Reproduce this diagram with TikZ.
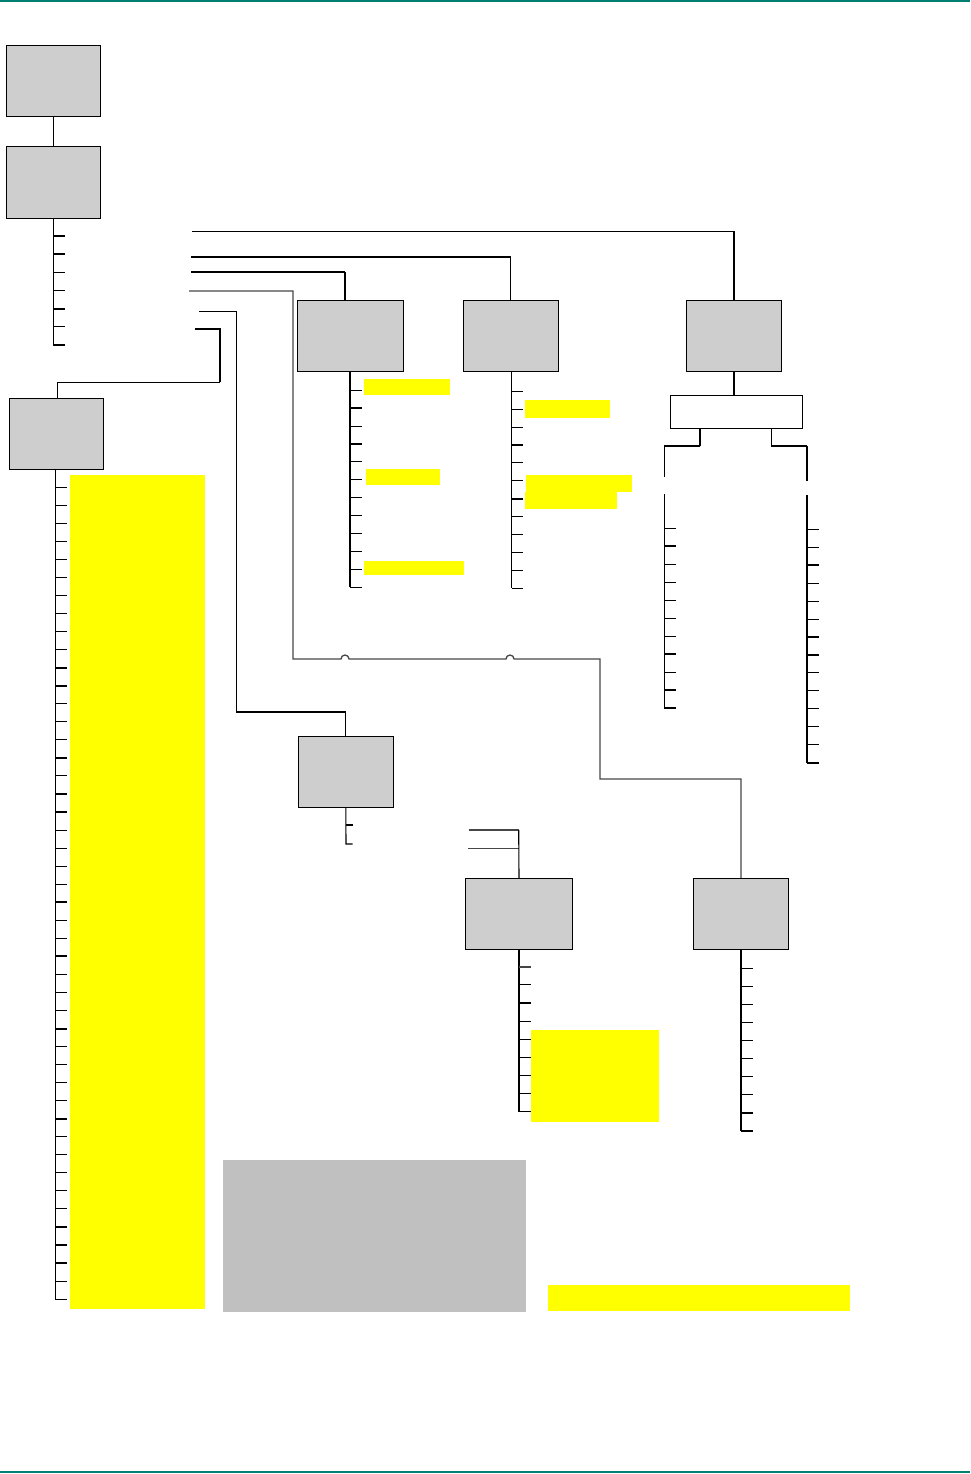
\documentclass[tikz,border=0pt]{standalone}
\usepackage{tikz}
\usepackage{xcolor}
\usetikzlibrary{positioning,calc}
\definecolor{rulegreen}{RGB}{0,128,114}
\definecolor{boxgray}{RGB}{206,206,206}
\definecolor{notegray}{RGB}{192,192,192}
\definecolor{hiyellow}{RGB}{255,255,0}
\definecolor{linegray}{RGB}{70,70,70}

\begin{document}
\begin{tikzpicture}[x=1pt, y=-1pt,
    menu/.style={draw, line width=1pt, fill=boxgray, inner sep=0pt, minimum height=71pt},
    hilite/.style={fill=hiyellow, inner sep=0pt},
    link/.style={line width=1.1pt},
    heavy/.style={line width=2pt},
    faint/.style={line width=1.3pt, draw=linegray}
]
    \useasboundingbox (0,0) rectangle (970,1474);
    \draw[line width=2pt, rulegreen] (0,1) -- (970,1);
    \draw[line width=2pt, rulegreen] (0,1472) -- (970,1472);

    % menu boxes
    \node[menu, minimum width=94pt] (root) at (53.5,81.5) {};
    \node[menu, minimum width=94pt] (main) at (53.5,182.5) {};
    \node[menu, minimum width=94pt] (menuA) at (56.5,434) {};
    \node[menu, minimum width=106pt] (menuB) at (350,335.5) {};
    \node[menu, minimum width=95pt] (menuC) at (510.8,335.5) {};
    \node[menu, minimum width=95pt] (menuD) at (734,335.7) {};
    \node[draw, line width=1pt, fill=white, minimum width=132pt, minimum height=33pt] (split) at (736.3,411.8) {};
    \node[menu, minimum width=95pt] (menuE) at (345.8,771.8) {};
    \node[menu, minimum width=107pt] (menuF) at (519,913.8) {};
    \node[menu, minimum width=95pt] (menuG) at (741,913.8) {};

    % highlights
    \node[hilite, minimum width=135pt, minimum height=834pt] (hlA) at (137.4,892.2) {};
    \node[hilite, minimum width=86pt, minimum height=16pt] (hlB1) at (407,387) {};
    \node[hilite, minimum width=74pt, minimum height=16pt] (hlB2) at (403,477) {};
    \node[hilite, minimum width=100pt, minimum height=14pt] (hlB3) at (414,568) {};
    \node[hilite, minimum width=85pt, minimum height=17.7pt] (hlC1) at (567.5,408.9) {};
    \node[hilite, minimum width=106pt, minimum height=16.7pt] (hlC2) at (579,483.4) {};
    \node[hilite, minimum width=92pt, minimum height=17.3pt] (hlC3) at (571.2,500.4) {};
    \node[hilite, minimum width=128pt, minimum height=92pt] (hlF) at (595,1075.9) {};
    \node[hilite, minimum width=302pt, minimum height=26pt] (hlfoot) at (699,1298) {};
    \node[fill=notegray, inner sep=0pt, minimum width=303pt, minimum height=152pt] (note) at (374.3,1236) {};

    % top chain
    \draw[link] (root.south) -- (main.north);
    \draw[link] (main.south) -- (53.5,345) -- (65,345);
    \foreach \i in {0,...,5} \draw[link] (53.5,236+18.17*\i) -- (65,236+18.17*\i);
    \foreach \i in {1,4} \draw[heavy] (53.5,236+18.17*\i) -- (65,236+18.17*\i);

    % feeds out of the main list
    \coordinate (fD) at (192,231.3);
    \coordinate (fC) at (191,256.7);
    \coordinate (fB) at (191,272);
    \coordinate (fG) at (189,291);
    \coordinate (fE) at (199,311.7);
    \coordinate (fA) at (195,328.7);
    \draw[link] (fD) -- (fD -| menuD.north);
    \draw[line width=1.6pt] (fD -| menuD.north) -- (menuD.north);
    \draw[heavy] (fC) -- (fC -| menuC.north);
    \draw[link] (fC -| menuC.north) -- (menuC.north);
    \draw[link] (fB) -- (fB -| 345,0);
    \draw[heavy] (345,272) -- ([xshift=-5pt]menuB.north);
    \draw[faint] (fG) -- (293,291) -- (293,659) -- (341,659) arc (180:360:4)
        -- (506,659) arc (180:360:4) -- (600,659) -- (600,779) -| (menuG.north);
    \draw[link] (fE) -- (236.7,311.7) -- (236.7,712) -| ([xshift=-0.1pt]menuE.north);
    \draw[heavy] (fA) -- (220,328.7) -- (220,382.3);
    \draw[link] (220,382.3) -| ([xshift=1.2pt]menuA.north);

    % left list
    \draw[link] (55.3,469.3) -- (55.3,1299.3) -- (67,1299.3);
    \foreach \i in {0,...,44} \draw[link] (55.3,487.3+18.04*\i) -- (67,487.3+18.04*\i);
    \foreach \i in {10,11,15,23,26,30,35} \draw[heavy] (55.3,487.3+18.04*\i) -- (67,487.3+18.04*\i);

    % menuB list
    \draw[heavy] (menuB.south) -- (350,587.3);
    \foreach \i in {0,...,11} \draw[link] (350,390.3+17.9*\i) -- (362,390.3+17.9*\i);
    \draw[heavy] (350,408.2) -- (362,408.2);

    % menuC list
    \draw[link] (511.7,371) -- (511.7,588.3);
    \foreach \i in {0,...,11} \draw[link] (511.7,391.3+17.91*\i) -- (523,391.3+17.91*\i);
    \draw[heavy] (511.7,498.8) -- (523,498.8);

    % menuD and its two branches
    \draw[heavy] (menuD.south) -- (menuD.south |- split.north);
    \draw[heavy] ([xshift=-36.3pt]split.south) -- (700,446);
    \draw[link] (700,446) -- (664.3,446) -- (664.3,477.3);
    \draw[link] (664.3,494.3) -- (664.3,708);
    \foreach \i in {0,...,10} \draw[link] (664.3,528.3+17.97*\i) -- (676,528.3+17.97*\i);
    \foreach \i in {1,7} \draw[heavy] (664.3,528.3+17.97*\i) -- (676,528.3+17.97*\i);
    \draw[link] ([xshift=35.4pt]split.south) -- (771.7,446) -- (806.7,446);
    \draw[heavy] (806.7,446) -- (806.7,480.7);
    \draw[heavy] (806.7,495) -- (806.7,762.7);
    \foreach \i in {0,...,12} \draw[link] (806.7,529.3+17.95*\i) -- (818.7,529.3+17.95*\i);
    \foreach \i in {2,13} \draw[heavy] (806.7,529.3+17.95*\i) -- (818.7,529.3+17.95*\i);

    % menuE list
    \draw[link] (menuE.south) -- (346,844) -- (352.7,844);
    \draw[link] (346,825) -- (352.7,825);

    % menuF
    \draw[faint] (468.7,830) -- (518.7,830);
    \draw[faint] (468,848.7) -- (518.7,848.7);
    \draw[link] (518.7,830) -- (menuF.north);
    \draw[link] (menuF.south) -- (519,1111.7) -- (530.7,1111.7);
    \foreach \i in {0,...,7} \draw[link] (519,966.7+18.12*\i) -- (530.7,966.7+18.12*\i);
    \draw[faint, line width=1.6pt] (519,966.7) -- (530.7,966.7);

    % menuG list
    \draw[link] (menuG.south) -- (741,1131);
    \draw[heavy] (741,1131) -- (753,1131);
    \foreach \i in {0,...,8} \draw[link] (741,968.3+18.08*\i) -- (753,968.3+18.08*\i);
\end{tikzpicture}
\end{document}
